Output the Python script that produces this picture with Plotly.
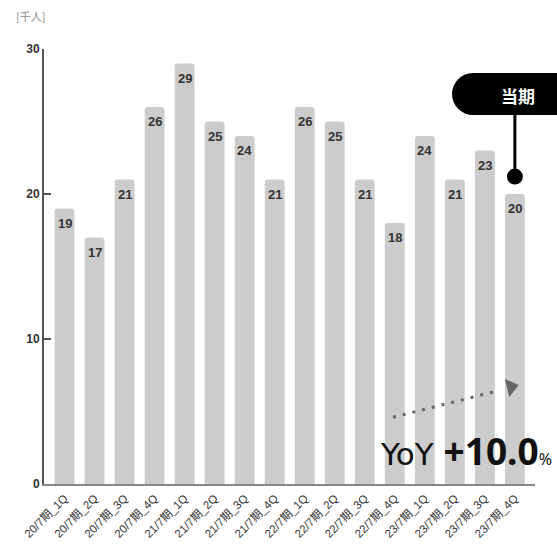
import plotly.graph_objects as go

# Quarterly headcount (thousand persons)
quarters = [
    "20/7期_1Q", "20/7期_2Q", "20/7期_3Q", "20/7期_4Q",
    "21/7期_1Q", "21/7期_2Q", "21/7期_3Q", "21/7期_4Q",
    "22/7期_1Q", "22/7期_2Q", "22/7期_3Q", "22/7期_4Q",
    "23/7期_1Q", "23/7期_2Q", "23/7期_3Q", "23/7期_4Q",
]
values = [19, 17, 21, 26, 29, 25, 24, 21, 26, 25, 21, 18, 24, 21, 23, 20]
y_ticks = [0, 10, 20, 30]
unit_label = "[千人]"
current_label = "当期"
yoy_text = "+10.0"

W, H = 557, 544
ML, MR, MT, MB = 44, 22, 49, 60
PW, PH = W - ML - MR, H - MT - MB
X_RANGE = [-0.683, len(values) - 1 + 0.67]
Y_RANGE = [0, 30]
X_UNIT = PW / (X_RANGE[1] - X_RANGE[0])   # pixels per category
Y_UNIT = PH / (Y_RANGE[1] - Y_RANGE[0])   # pixels per thousand


def px_x(px):
    """Pixel x -> paper x."""
    return (px - ML) / PW


def px_y(py):
    """Pixel y (from top) -> paper y."""
    return (H - MB - py) / PH


latin = "Liberation Sans, Arial, Noto Sans CJK JP, sans-serif"
cjk = "Noto Sans CJK JP, sans-serif"
idx = list(range(len(values)))
last = idx[-1]

fig = go.Figure()

fig.add_trace(go.Bar(
    x=idx,
    y=values,
    width=0.66,
    marker=dict(color="#cccccc", line=dict(width=0)),
    hoverinfo="skip",
))

# dotted trend arrow toward the latest quarter
fig.add_trace(go.Scatter(
    x=[last - 4.06, last - 0.6],
    y=[4.6, 6.41],
    mode="lines",
    line=dict(color="#666666", width=3, dash="3px,7px"),
    hoverinfo="skip",
    showlegend=False,
))
fig.add_trace(go.Scatter(
    x=[last - 0.13],
    y=[6.69],
    mode="markers",
    marker=dict(symbol="triangle-right", size=16, angle=-14,
                color="#666666", line=dict(width=0)),
    hoverinfo="skip",
    showlegend=False,
))

# value labels just under each bar top
annotations = [
    dict(x=i, y=v, xref="x", yref="y", text=str(v), showarrow=False,
         xanchor="center", yanchor="top", yshift=-5,
         font=dict(family=latin, size=13, color="#333333", weight="bold"))
    for i, v in zip(idx, values)
]

shapes = []
# callout stem and dot above the current bar
dot_y = values[last] + 1.2
stem_top = (H - MB - 115) / Y_UNIT
shapes.append(dict(type="line", xref="x", yref="y",
                   x0=last, x1=last, y0=dot_y, y1=stem_top,
                   line=dict(color="#000000", width=3), layer="above"))
shapes.append(dict(type="circle", xref="x", yref="y",
                   x0=last - 8 / X_UNIT, x1=last + 8 / X_UNIT,
                   y0=dot_y - 8 / Y_UNIT, y1=dot_y + 8 / Y_UNIT,
                   fillcolor="#000000", line=dict(width=0), layer="above"))
# pill-shaped callout box
shapes.append(dict(type="circle", xref="paper", yref="paper",
                   x0=px_x(452), x1=px_x(494), y0=px_y(115), y1=px_y(73),
                   fillcolor="#000000", line=dict(width=0), layer="above"))
shapes.append(dict(type="rect", xref="paper", yref="paper",
                   x0=px_x(473), x1=px_x(600), y0=px_y(115), y1=px_y(73),
                   fillcolor="#000000", line=dict(width=0), layer="above"))

annotations += [
    dict(text=unit_label, xref="paper", yref="paper",
         x=px_x(14), y=px_y(16), xanchor="left", yanchor="middle",
         showarrow=False, font=dict(family=cjk, size=11, color="#888888")),
    dict(text=current_label, xref="paper", yref="paper",
         x=px_x(518), y=px_y(95), xanchor="center", yanchor="middle",
         showarrow=False,
         font=dict(family=cjk, size=17, color="#ffffff", weight="bold")),
    dict(text=("YoY <b style='font-family:Noto Sans;font-size:37px'>"
               + yoy_text + "</b>"
               "<span style='font-family:Noto Sans;font-size:16px'>%</span>"),
         xref="paper", yref="paper",
         x=px_x(554), y=px_y(450), xanchor="right", yanchor="middle",
         showarrow=False,
         font=dict(family="DejaVu Sans, sans-serif", size=31,
                   color="#111111")),
]

fig.update_layout(
    width=W, height=H,
    margin=dict(l=ML, r=MR, t=MT, b=MB, pad=0, autoexpand=False),
    paper_bgcolor="#ffffff",
    plot_bgcolor="#ffffff",
    showlegend=False,
    barcornerradius=3,
    shapes=shapes,
    annotations=annotations,
    xaxis=dict(
        range=X_RANGE,
        tickvals=idx, ticktext=quarters,
        automargin=False,
        showgrid=False, zeroline=False,
        showline=True, linecolor="#888888", linewidth=2,
        ticks="", tickangle=-45, ticklabelstandoff=1,
        tickfont=dict(family=latin, size=11.5, color="#333333"),
    ),
    yaxis=dict(
        range=Y_RANGE,
        tickvals=y_ticks,
        automargin=False,
        showgrid=False, zeroline=False,
        showline=True, linecolor="#555555", linewidth=2,
        ticks="inside", ticklen=7, tickwidth=2, tickcolor="#555555",
        tickfont=dict(family=latin, size=12, color="#333333", weight="bold"),
    ),
)

fig.write_html("out.html")
